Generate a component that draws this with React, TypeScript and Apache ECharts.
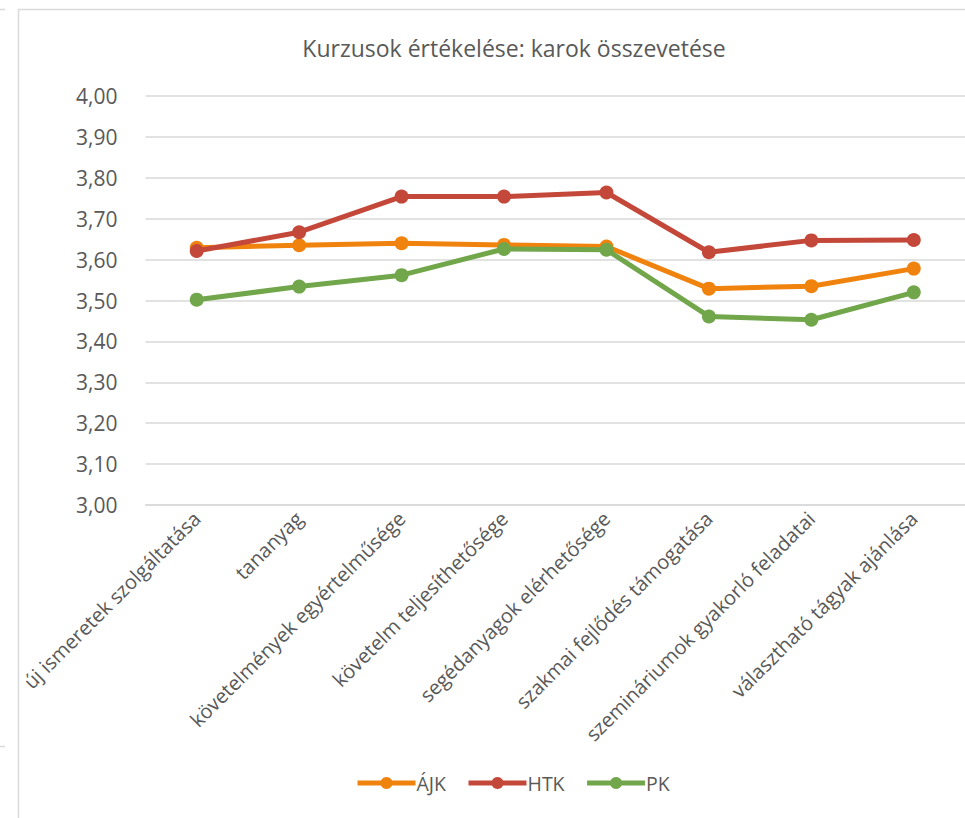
import React, { useEffect, useRef } from "react";
import * as echarts from "echarts";

const categories = [
  "új ismeretek szolgáltatása",
  "tananyag",
  "követelmények egyértelműsége",
  "követelm teljesíthetősége",
  "segédanyagok elérhetősége",
  "szakmai fejlődés támogatása",
  "szemináriumok gyakorló feladatai",
  "választható tágyak ajánlása",
];
const ajk = [3.629, 3.635, 3.64, 3.636, 3.632, 3.529, 3.535, 3.578];
const htk = [3.621, 3.667, 3.754, 3.754, 3.764, 3.618, 3.647, 3.648];
const pk = [3.502, 3.534, 3.562, 3.626, 3.624, 3.461, 3.453, 3.52];
const seriesNames = ["ÁJK", "HTK", "PK"];
const colors = ["#F0820E", "#C4483A", "#72A64B"];

const FONT = "'Open Sans', 'Noto Sans', sans-serif";

export default function App() {
  const ref = useRef<HTMLDivElement>(null);
  useEffect(() => {
    document.body.style.margin = "0";
    const chart = echarts.init(ref.current!, null, { renderer: "svg" });
    const data = [ajk, htk, pk];
    chart.setOption({
      animation: false,
      backgroundColor: "#ffffff",
      title: {
        text: "Kurzusok értékelése: karok összevetése",
        left: 509,
        textAlign: "center",
        top: 31,
        textStyle: { color: "#595959", fontSize: 23, fontWeight: "normal", fontFamily: FONT },
      },
      legend: {
        top: 768,
        left: 350,
        itemWidth: 58,
        itemHeight: 15,
        itemGap: 20,
        data: seriesNames,
        lineStyle: { width: 5 },
        textStyle: { color: "#595959", fontSize: 19.5, fontFamily: FONT, padding: [0, 0, 0, -4] },
      },
      grid: { left: 145.5, top: 96, width: 824, height: 409, containLabel: false },
      xAxis: {
        type: "category",
        data: categories,
        boundaryGap: true,
        axisLine: { show: true, lineStyle: { color: "#D9D9D9", width: 1.5 } },
        axisTick: { show: false },
        axisLabel: {
          rotate: 45,
          interval: 0,
          margin: 10,
          color: "#595959",
          fontSize: 20,
          fontFamily: FONT,
        },
      },
      yAxis: {
        type: "value",
        min: 3,
        max: 4,
        interval: 0.1,
        axisLine: { show: false },
        axisTick: { show: false },
        splitLine: { lineStyle: { color: "#D9D9D9", width: 1.5 } },
        axisLabel: {
          color: "#595959",
          fontSize: 21,
          fontFamily: FONT,
          margin: 28,
          formatter: (v: number) => v.toFixed(2).replace(".", ","),
        },
      },
      series: seriesNames.map((name, i) => ({
        name,
        type: "line",
        data: data[i],
        symbol: "circle",
        symbolSize: 14,
        lineStyle: { color: colors[i], width: 5 },
        itemStyle: { color: colors[i] },
        z: 3 + i,
      })),
      graphic: [
        {
          type: "rect",
          shape: { x: 18.5, y: 9.5, width: 1000, height: 1000 },
          style: { fill: "none", stroke: "#D9D9D9", lineWidth: 1.5 },
          silent: true,
        },
        {
          type: "line",
          shape: { x1: 0, y1: 9.5, x2: 5, y2: 9.5 },
          style: { stroke: "#D9D9D9", lineWidth: 1.5 },
        },
        {
          type: "line",
          shape: { x1: 0, y1: 746.5, x2: 5, y2: 746.5 },
          style: { stroke: "#D9D9D9", lineWidth: 1.5 },
        },
      ],
    });
    return () => chart.dispose();
  }, []);
  return <div ref={ref} style={{ width: 965, height: 818 }} />;
}
